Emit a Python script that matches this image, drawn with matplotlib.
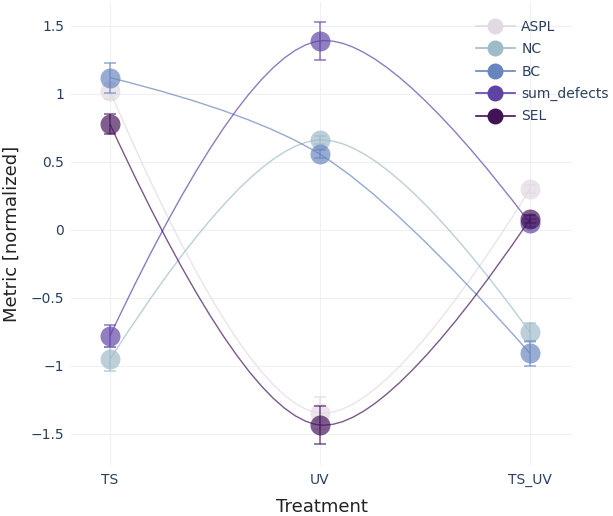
import numpy as np
import matplotlib
matplotlib.use("Agg")
import matplotlib.pyplot as plt
from matplotlib.path import Path
from matplotlib.patches import PathPatch
from matplotlib.lines import Line2D
from matplotlib.ticker import FixedLocator, FuncFormatter

# Data
treatments = ["TS", "UV", "TS_UV"]
metrics = ["ASPL", "NC", "BC", "sum_defects", "SEL"]
aspl = [1.02, -1.345, 0.30]
nc = [-0.95, 0.662, -0.752]
bc = [1.12, 0.557, -0.907]
sum_defects = [-0.777, 1.39, 0.05]
sel = [0.777, -1.434, 0.079]
aspl_err = [0.06, 0.12, 0.03]
nc_err = [0.09, 0.03, 0.07]
bc_err = [0.11, 0.03, 0.09]
sum_defects_err = [0.08, 0.14, 0.03]
sel_err = [0.075, 0.14, 0.03]

colors = ["#e2d9e2", "#9ebbc9", "#6785be", "#5e43a5", "#421257"]
tick_color = "#2a3f5f"

fig = plt.figure(figsize=(6.13, 5.16), dpi=100)
ax = fig.add_axes([71 / 613, 1 - 465 / 516, (572 - 71) / 613, (465 - 2) / 516])
ax.set_xlim(-0.186, 2.2)
ax.set_ylim(-1.728, 1.676)

# pixel scale used for plotly-like spline smoothing
sx, sy = 210.0, 136.0


def tangent(p0, p1, p2, smooth=1.0):
    d1 = p0 - p1
    d2 = p2 - p1
    d1a = np.hypot(*d1) ** 0.5
    d2a = np.hypot(*d2) ** 0.5
    num = (d2a * d2a * d1 - d1a * d1a * d2) * smooth
    den1 = 3 * d2a * (d1a + d2a)
    den2 = 3 * d1a * (d1a + d2a)
    return p1 + num / den1, p1 - num / den2


def spline_path(xs, ys):
    pts = np.column_stack([np.asarray(xs) * sx, np.asarray(ys) * sy])
    c0, c1 = tangent(pts[0], pts[1], pts[2])
    verts = np.array([pts[0], c0, pts[1], c1, pts[2]]) / [sx, sy]
    codes = [Path.MOVETO, Path.CURVE3, Path.CURVE3, Path.CURVE3, Path.CURVE3]
    return Path(verts, codes)


x = np.arange(len(treatments))
series = [(aspl, aspl_err), (nc, nc_err), (bc, bc_err),
          (sum_defects, sum_defects_err), (sel, sel_err)]

for i, ((vals, errs), col) in enumerate(zip(series, colors)):
    z = 3 + i
    ax.add_patch(PathPatch(spline_path(x, vals), facecolor="none",
                           edgecolor=col, lw=1.0, alpha=0.7, zorder=z))
    ax.errorbar(x, vals, yerr=errs, fmt="none", ecolor=col, elinewidth=1.1,
                capsize=4, capthick=1.1, alpha=0.7, zorder=z)
    ax.plot(x, vals, "o", ms=14.4, color=col, mec="none", alpha=0.68, zorder=z)

# axes styling
ax.xaxis.set_major_locator(FixedLocator(x))
ax.set_xticklabels(treatments)
yt = [-1.5, -1, -0.5, 0, 0.5, 1, 1.5]
ax.yaxis.set_major_locator(FixedLocator(yt))
ax.yaxis.set_major_formatter(FuncFormatter(lambda v, p: f"{v:g}".replace("-", "\u2212")))
ax.tick_params(length=0, labelsize=10, colors=tick_color)
ax.tick_params(axis="x", pad=6)
ax.tick_params(axis="y", pad=5)
ax.grid(True, color="#eef0f5", lw=0.8)
ax.set_axisbelow(True)
for s in ax.spines.values():
    s.set_visible(False)

ax.set_xlabel("Treatment", fontsize=13, color="#222222", labelpad=8)
ax.set_ylabel("Metric [normalized]", fontsize=13, color="#222222", labelpad=7)

handles = [Line2D([0], [0], color=c, lw=1.2, marker="o", ms=11.5, mec="none")
           for c in colors]
leg = fig.legend(handles, metrics, loc="upper left", bbox_to_anchor=(476 / 613, 1 - 20 / 516),
                 frameon=False, fontsize=10, handlelength=2.8, handletextpad=0.45,
                 labelspacing=0.6, borderpad=0, borderaxespad=0)
for t in leg.get_texts():
    t.set_color(tick_color)

fig.savefig("out.png", dpi=100)
